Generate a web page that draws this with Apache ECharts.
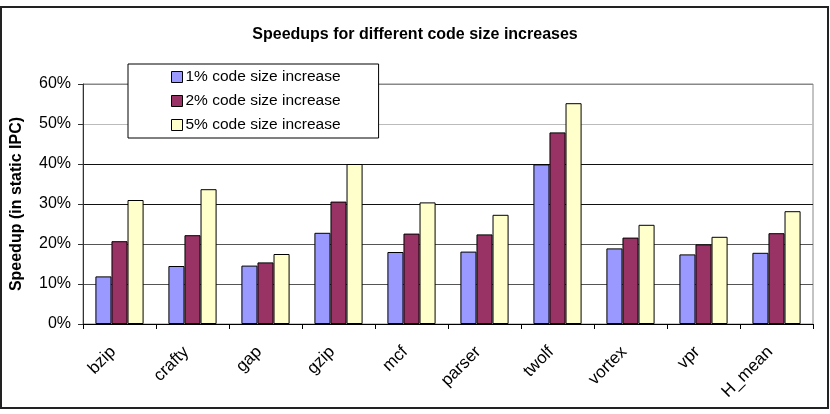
<!DOCTYPE html>
<html>
<head>
<meta charset="utf-8">
<script src="https://cdn.jsdelivr.net/npm/echarts@6/dist/echarts.min.js"></script>
<style>
html,body{margin:0;padding:0;background:#fff;}
#chart{width:830px;height:414px;}
</style>
</head>
<body>
<div id="chart"></div>
<script>
var benchmarks = ['bzip','crafty','gap','gzip','mcf','parser','twolf','vortex','vpr','H_mean'];
var inc1 = [11.9, 14.5, 14.6, 22.8, 18.0, 18.1, 39.9, 18.9, 17.4, 17.8];
var inc2 = [20.7, 22.2, 15.4, 30.6, 22.6, 22.4, 47.9, 21.6, 19.9, 22.7];
var inc5 = [31.0, 33.7, 17.5, 40.0, 30.4, 27.3, 55.2, 24.8, 21.8, 28.2];
var seriesNames = ['1% code size increase','2% code size increase','5% code size increase'];
var seriesColors = ['#9999ff','#993366','#ffffcc'];

var chart = echarts.init(document.getElementById('chart'));
var font = 'Liberation Sans, Arial, sans-serif';

function mkSeries(name, data, color){
	return {
		name: name,
		type: 'bar',
		data: data,
		barGap: '0%',
		barCategoryGap: '34%',
		itemStyle: {color: color, borderColor: '#000', borderWidth: 1},
		emphasis: {disabled: true}
	};
}

var option = {
	animation: false,
	backgroundColor: '#fff',
	title: {
		text: 'Speedups for different code size increases',
		left: 'center',
		top: 22,
		textStyle: {fontFamily: font, fontSize: 16, fontWeight: 'bold', color: '#000'}
	},
	legend: {
		orient: 'vertical',
		left: 128,
		top: 64,
		padding: [5, 38, 5, 43],
		itemGap: 8,
		itemWidth: 11,
		itemHeight: 11,
		icon: 'rect',
		backgroundColor: '#fff',
		borderColor: '#000',
		borderWidth: 1,
		itemStyle: {borderColor: '#000', borderWidth: 1},
		textStyle: {fontFamily: font, fontSize: 15.5, color: '#000', padding: [0, 0, 0, -2]},
		data: seriesNames
	},
	grid: {
		left: 83, right: 17, top: 84, bottom: 90,
		show: true, borderColor: '#888', borderWidth: 1
	},
	xAxis: {
		type: 'category',
		data: benchmarks,
		axisLine: {lineStyle: {color: '#000', width: 1}},
		axisTick: {show: true, length: 5, lineStyle: {color: '#000'}},
		axisLabel: {rotate: 45, margin: 19, padding: [0, 9, 0, 0], fontFamily: font, fontSize: 17, color: '#000'}
	},
	yAxis: {
		type: 'value',
		min: 0, max: 60, interval: 10,
		name: 'Speedup (in static IPC)',
		nameLocation: 'middle',
		nameGap: 58,
		nameTextStyle: {fontFamily: font, fontSize: 16, fontWeight: 'bold', color: '#000'},
		axisLine: {show: true, lineStyle: {color: '#333'}},
		axisTick: {show: true, length: 5, lineStyle: {color: '#333'}},
		axisLabel: {formatter: '{value}%', margin: 12, fontFamily: font, fontSize: 16, color: '#000'},
		splitLine: {lineStyle: {color: ['#000','#555','#555','#111','#111','#bbb','#888'], width: 1}}
	},
	graphic: [{
		type: 'rect',
		shape: {x: 1, y: 7, width: 827, height: 401},
		style: {fill: null, stroke: '#222', lineWidth: 2},
		silent: true
	}],
	series: [
		mkSeries(seriesNames[0], inc1, seriesColors[0]),
		mkSeries(seriesNames[1], inc2, seriesColors[1]),
		mkSeries(seriesNames[2], inc5, seriesColors[2])
	]
};
chart.setOption(option);
</script>
</body>
</html>
